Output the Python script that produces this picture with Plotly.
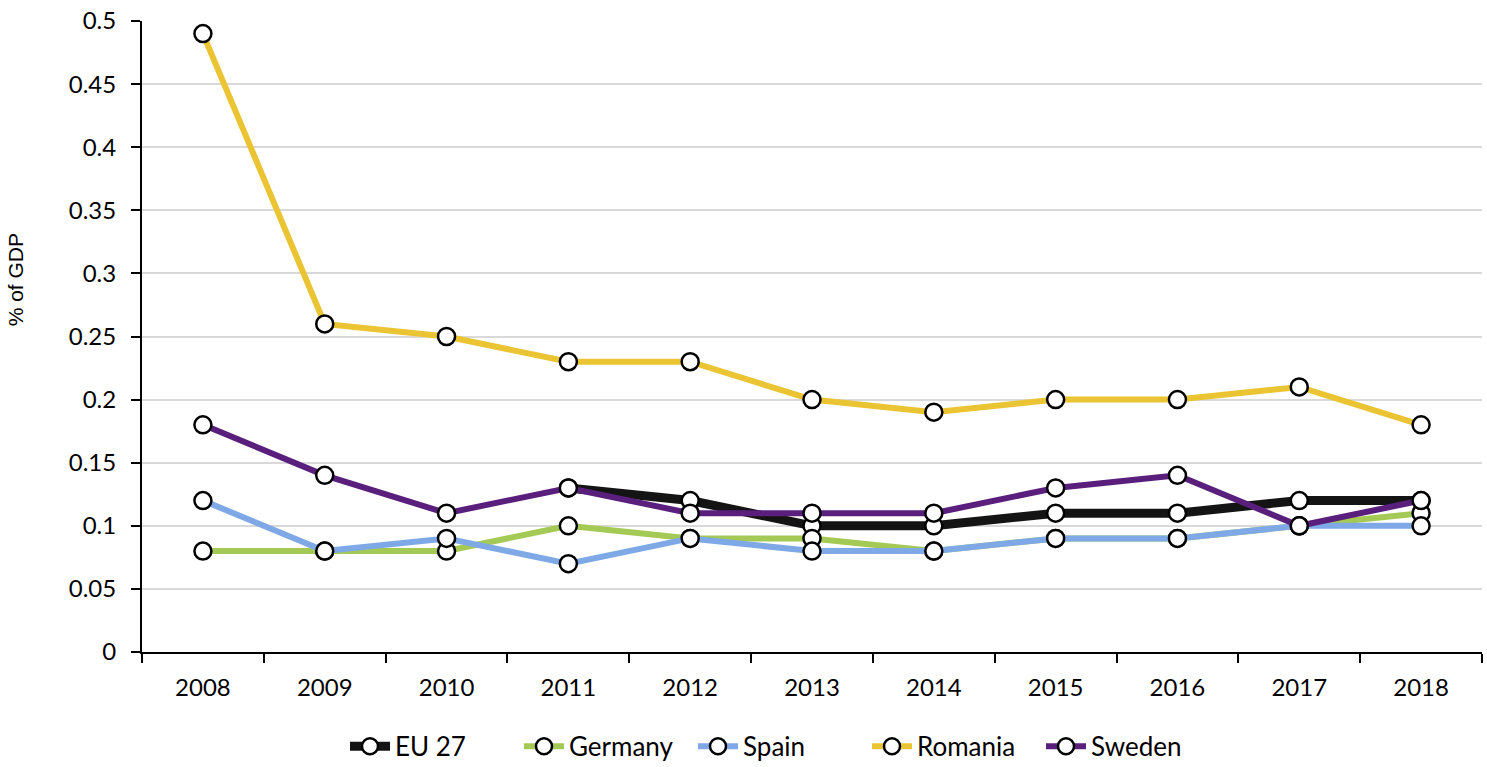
import plotly.graph_objects as go

years = ["2008", "2009", "2010", "2011", "2012", "2013", "2014", "2015", "2016", "2017", "2018"]
eu27 = [None, None, None, 0.13, 0.12, 0.10, 0.10, 0.11, 0.11, 0.12, 0.12]
germany = [0.08, 0.08, 0.08, 0.10, 0.09, 0.09, 0.08, 0.09, 0.09, 0.10, 0.11]
spain = [0.12, 0.08, 0.09, 0.07, 0.09, 0.08, 0.08, 0.09, 0.09, 0.10, 0.10]
romania = [0.49, 0.26, 0.25, 0.23, 0.23, 0.20, 0.19, 0.20, 0.20, 0.21, 0.18]
sweden = [0.18, 0.14, 0.11, 0.13, 0.11, 0.11, 0.11, 0.13, 0.14, 0.10, 0.12]

series = [
    ("EU 27", eu27, "#141414", 9),
    ("Germany", germany, "#a4c955", 6),
    ("Spain", spain, "#7fa9e6", 6),
    ("Romania", romania, "#eac433", 6),
    ("Sweden", sweden, "#5a1f7c", 6),
]

fig = go.Figure()
for name, vals, color, w in series:
    fig.add_trace(go.Scatter(
        x=years, y=vals, name=name, mode="lines+markers",
        line=dict(color=color, width=w),
        marker=dict(size=17, color="white", line=dict(color="black", width=2.5)),
    ))

font = "Lato, 'Open Sans', sans-serif"
fig.update_layout(
    width=1487, height=767,
    paper_bgcolor="white", plot_bgcolor="white",
    margin=dict(l=142, r=5, t=17, b=115),
    font=dict(family=font, size=24, color="black"),
    showlegend=True,
    legend=dict(orientation="h", xref="container", yref="container",
                x=345 / 1487, y=0.027, xanchor="left", yanchor="middle",
                font=dict(family=font, size=26), itemwidth=40,
                entrywidth=119, entrywidthmode="pixels",
                tracegroupgap=0),
    xaxis=dict(type="category", showgrid=False, showline=True, linecolor="black",
               linewidth=2, ticks="outside", tickson="boundaries", ticklen=9,
               tickwidth=2, tickcolor="black", tickfont=dict(size=24),
               ticklabelstandoff=13, range=[-0.5, 10.5]),
    yaxis=dict(range=[0, 0.5], dtick=0.05, showgrid=True, gridcolor="#d9d9d9",
               gridwidth=2, showline=True, linecolor="black", linewidth=2,
               ticks="outside", ticklen=9, tickwidth=2, tickcolor="black",
               tickfont=dict(size=24), zeroline=False, ticklabelstandoff=10),
    annotations=[dict(text="% of GDP", xref="paper", yref="paper",
                      x=(15 - 142) / 1340, y=(652 - 278) / 635, textangle=-90,
                      showarrow=False, xanchor="center", yanchor="middle",
                      font=dict(family="'Liberation Sans', Arial, sans-serif", size=21))],
)

fig.write_html("out.html", config={"displayModeBar": False},
               post_script="document.body.style.margin='0';")
